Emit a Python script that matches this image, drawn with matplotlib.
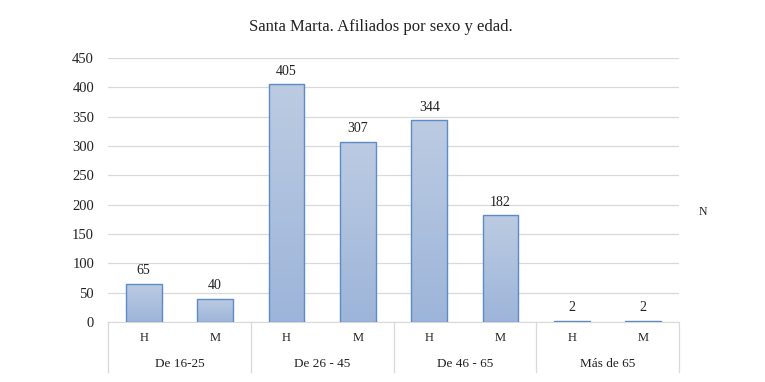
import matplotlib
matplotlib.use('Agg')
import matplotlib.pyplot as plt
import matplotlib.transforms as mtransforms
import numpy as np

plt.rcParams['font.family'] = ['Liberation Serif', 'DejaVu Serif']

## Data
groups = ['De 16-25', 'De 26 - 45', 'De 46 - 65', 'Más de 65']
sexes  = ['H', 'M']
values = [65, 40, 405, 307, 344, 182, 2, 2]
title  = 'Santa Marta. Afiliados por sexo y edad.'
series_name = 'N'

fig = plt.figure(figsize=(7.65, 3.82), dpi=100)
ax = fig.add_axes([108/765, 1 - 322/382, (679-108)/765, (322-58)/382])

x = np.arange(len(values))
bars = ax.bar(x, values, width=0.5, color='none', edgecolor='#5b8cc8', linewidth=1.0, zorder=3)

# vertical gradient in each bar, lighter at top
grad = np.linspace(0, 1, 256).reshape(-1, 1)
cmap = matplotlib.colors.LinearSegmentedColormap.from_list('g', ['#9db5da', '#bccbe2'])
for b in bars:
    x0, y0 = b.get_x(), b.get_y()
    w, h = b.get_width(), b.get_height()
    im = ax.imshow(grad, cmap=cmap, aspect='auto', origin='lower',
                   extent=[x0, x0 + w, y0, y0 + h], zorder=2)
    im.set_clip_path(b)

for xi, v in zip(x, values):
    ax.text(xi, v + 11, str(v), ha='center', va='bottom', fontsize=10, color='#222222')

ax.set_xlim(-0.5, len(values) - 0.5)
ax.set_ylim(0, 450)
ax.set_yticks(np.arange(0, 451, 50))
ax.grid(axis='y', color='#d9d9d9', linewidth=0.9, zorder=0)
ax.set_axisbelow(True)
for s in ['top', 'right', 'left']:
    ax.spines[s].set_visible(False)
ax.spines['bottom'].set_color('#d9d9d9')
ax.tick_params(axis='y', length=0, labelsize=10.5, pad=10, colors='#222222')
ax.tick_params(axis='x', length=0, labelbottom=False)

# two-level category axis
trans = mtransforms.blended_transform_factory(ax.transData, ax.transAxes)
ax_h = (322 - 58) / 382 * 3.82 * 100  # axes height in px
def py(px):
    return -px / ax_h
for xi in x:
    ax.text(xi, py(16), sexes[xi % 2], transform=trans, ha='center', va='center',
            fontsize=9, color='#222222')
for gi, g in enumerate(groups):
    ax.text(2 * gi + 0.5, py(42), g, transform=trans, ha='center', va='center',
            fontsize=9.5, color='#222222')
for bx in np.arange(-0.5, len(values), 2):
    ax.plot([bx, bx], [0, py(50)], transform=trans, color='#d9d9d9',
            linewidth=0.9, clip_on=False)

fig.text(381/765, 1 - 27/382, title, ha='center', va='center', fontsize=12, color='#222222')
fig.text(703/765, 1 - 212/382, series_name, ha='center', va='center', fontsize=8.5, color='#222222')

fig.savefig('out.png', dpi=100)
